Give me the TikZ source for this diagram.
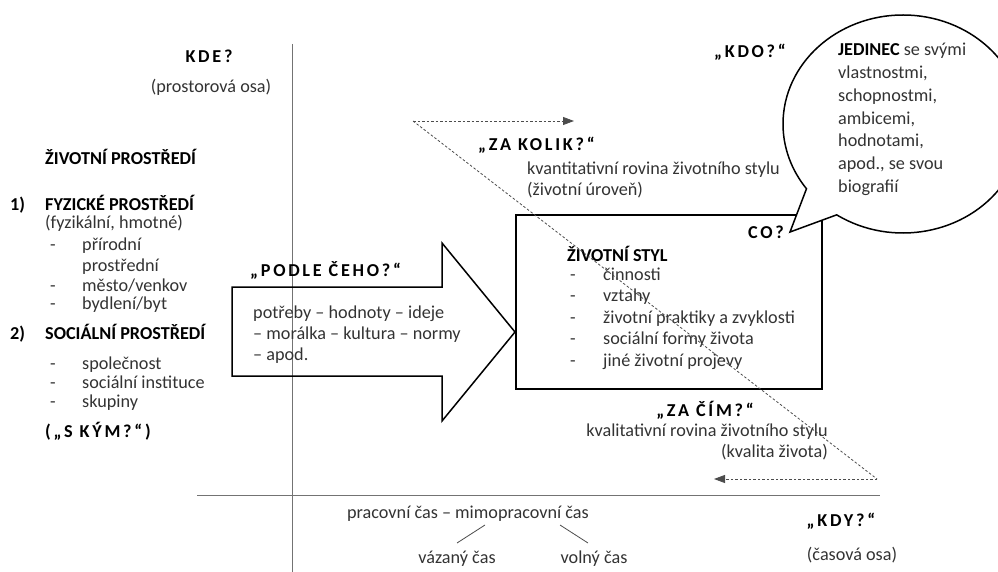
\documentclass[tikz,border=0pt]{standalone}
\usepackage{fontspec}
\setmainfont{Carlito}
\newfontfamily\spacedfont[LetterSpace=15]{Carlito}
\usetikzlibrary{arrows.meta,shapes.callouts,positioning}
\tikzstyle{axis}=[draw,black!55,line width=1pt]
\tikzstyle{txt}=[font=\fontsize{18.2}{22}\selectfont,text=black!80,inner sep=0pt]
\tikzstyle{head}=[font=\fontsize{18.2}{22}\selectfont\bfseries,inner sep=0pt]
\tikzstyle{spaced}=[font=\fontsize{18.2}{22}\selectfont\spacedfont\bfseries,inner sep=0pt]
\tikzstyle{dotline}=[draw,black!70,line width=0.8pt,dash pattern=on 2.5pt off 2pt]
\tikzstyle{thickbox}=[draw,line width=1.5pt]
\tikzstyle{branch}=[draw,black!70,line width=0.8pt]

\begin{document}
\begin{tikzpicture}[x=1pt,y=-1pt]
    \useasboundingbox (0,0) rectangle (998,572);

    % axes
    \coordinate (vtop) at (292,44);
    \coordinate (vbot) at (292,572);
    \coordinate (hleft) at (197,495);
    \coordinate (hright) at (880,495);
    \path[axis] (vtop) -- (vbot);
    \path[axis] (hleft) -- (hright);

    \node[spaced,anchor=base] (kde) at (209,63) {KDE?};
    \node[txt,anchor=base] (kdeosa) at (211,93) {(prostorová osa)};

    % environment
    \node[head,anchor=base west] (env) at (45,165) {ŽIVOTNÍ PROSTŘEDÍ};
    \node[head,anchor=base west] (num1) at (10,211) {1)};
    \node[head,anchor=base west] (phys) at (45,211) {FYZICKÉ PROSTŘEDÍ};
    \node[txt,anchor=base west] (physsub) at (45,228) {(fyzikální, hmotné)};
    \foreach \i/\y/\d/\name in {1/250/-/přírodní, 2/271/{}/prostřední, 3/291/-/{město/venkov}, 4/309/-/{bydlení/byt}} {
        \node[txt,anchor=base west] (physd\i) at (50,\y) {\d};
        \node[txt,anchor=base west] (phys\i) at (82,\y) {\name};
    }
    \node[head,anchor=base west] (num2) at (10,339) {2)};
    \node[head,anchor=base west] (soc) at (45,339) {SOCIÁLNÍ PROSTŘEDÍ};
    \foreach \i/\y/\name in {1/369/společnost, 2/388/sociální instituce, 3/407/skupiny} {
        \node[txt,anchor=base west] (socd\i) at (50,\y) {-};
        \node[txt,anchor=base west] (soc\i) at (82,\y) {\name};
    }
    \node[spaced,anchor=base west] (skym) at (45,437) {(„S KÝM?“)};

    % big arrow
    \draw[thickbox] (232,287) -- (442,287) -- (442,243) -- (515,332) -- (442,421) -- (442,376) -- (232,376) -- cycle;
    \node[spaced,anchor=base west] (podle) at (250,276) {„PODLE ČEHO?“};
    \foreach \i/\y/\line in {1/318/{potřeby – hodnoty – ideje}, 2/339/{– morálka – kultura – normy}, 3/360/{– apod.}}
        \node[txt,anchor=base west] (val\i) at (253,\y) {\line};

    % lifestyle box
    \node[thickbox,minimum width=306,minimum height=174,inner sep=0pt] (style) at (669,302) {};
    \node[spaced,anchor=base east] (co) at (784,238) {CO?};
    \node[head,anchor=base west] (stylehead) at (567,261) {ŽIVOTNÍ STYL};
    \foreach \i/\y/\name in {1/280/činnosti, 2/301/vztahy, 3/323/životní praktiky a zvyklosti, 4/344/sociální formy života, 5/366/jiné životní projevy} {
        \node[txt,anchor=base west] (styled\i) at (570,\y) {-};
        \node[txt,anchor=base west] (style\i) at (603,\y) {\name};
    }

    % bubble
    \node[ellipse callout,draw,fill=white,line width=1.5pt,minimum width=240,minimum height=218,
          callout absolute pointer={(790,232)},callout pointer arc=20] (bubble) at (903,124) {};
    \node[txt,anchor=north west,align=left,font=\fontsize{18.2}{22.8}\selectfont] (indiv) at (838,43)
        {\textbf{\color{black}JEDINEC} se svými\\vlastnostmi,\\schopnostmi,\\ambicemi,\\hodnotami,\\apod., se svou\\biografií};
    \node[spaced,anchor=base] (kdo) at (750,58) {„KDO?“};

    % dotted triangle
    \coordinate (kol0) at (413,121);
    \coordinate (kol1) at (574,121);
    \coordinate (cim0) at (877,479);
    \coordinate (cim1) at (714,479);
    \path[dotline,-{Triangle[length=11pt,width=8pt]}] (kol0) -- (kol1);
    \path[dotline] (kol0) -- (cim0);
    \path[dotline,-{Triangle[length=11pt,width=8pt]}] (cim0) -- (cim1);

    \node[spaced,anchor=base west] (zakolik) at (478,151) {„ZA KOLIK?“};
    \node[txt,anchor=base west] (kvant) at (527,175) {kvantitativní rovina životního stylu};
    \node[txt,anchor=base west] (uroven) at (527,196) {(životní úroveň)};

    \node[spaced,anchor=base] (zacim) at (705,416) {„ZA ČÍM?“};
    \node[txt,anchor=base] (kval) at (707,436) {kvalitativní rovina životního stylu};
    \node[txt,anchor=base east] (kvalita) at (828,457) {(kvalita života)};

    % time
    \node[txt,anchor=base] (prac) at (468,518) {pracovní čas – mimopracovní čas};
    \node[txt,anchor=base] (vazany) at (457,563) {vázaný čas};
    \node[txt,anchor=base] (volny) at (594,563) {volný čas};
    \coordinate (b1) at (485,525);
    \coordinate (b2) at (457,543);
    \coordinate (b3) at (560,525);
    \coordinate (b4) at (588,543);
    \path[branch] (b1) -- (b2);
    \path[branch] (b3) -- (b4);

    \node[spaced,anchor=base] (kdy) at (841,526) {„KDY?“};
    \node[txt,anchor=base] (kdyosa) at (852,560) {(časová osa)};
\end{tikzpicture}
\end{document}
